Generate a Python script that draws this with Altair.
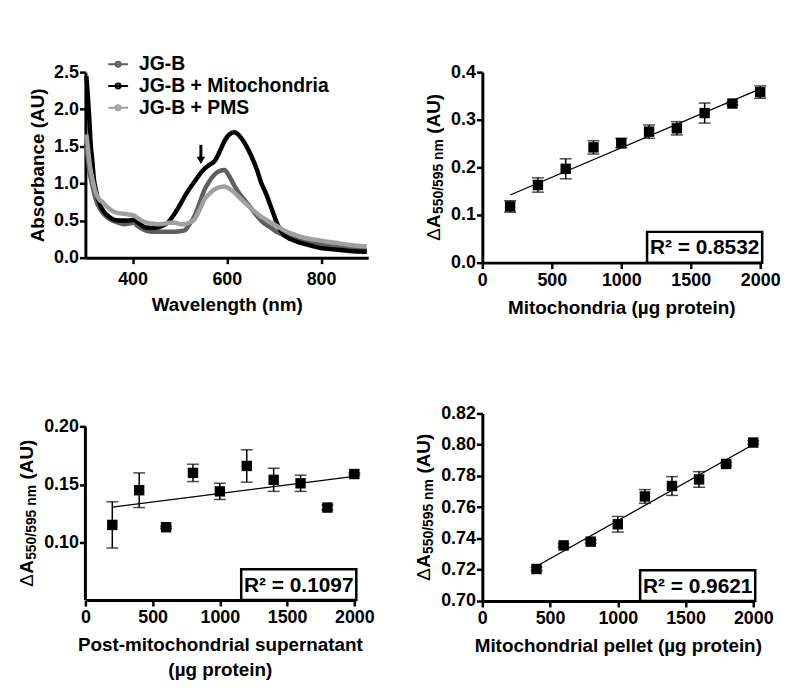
import altair as alt
import pandas as pd

FONT = "Liberation Sans"

# ---------------- Panel A: absorption spectra ----------------
wavelength = [302, 305, 308, 311, 315, 318, 322, 325, 330, 336,
              345, 357, 370, 384, 393, 402, 412, 426, 440, 455,
              470, 476, 490, 504, 511, 520, 532, 542, 553, 563,
              574, 585, 595, 605, 616, 627, 640, 652, 663, 673,
              684, 694, 708, 721, 735, 757, 780, 799, 830, 860, 897]
abs_jgb = [1.50, 1.35, 1.19, 1.08, 0.97, 0.88, 0.79, 0.73, 0.67, 0.61,
           0.55, 0.50, 0.47, 0.45, 0.46, 0.47, 0.42, 0.37, 0.35, 0.35,
           0.35, 0.35, 0.35, 0.36, 0.37, 0.44, 0.57, 0.73, 0.92, 1.03,
           1.12, 1.17, 1.18, 1.10, 0.97, 0.86, 0.76, 0.66, 0.57, 0.50,
           0.44, 0.40, 0.34, 0.30, 0.27, 0.23, 0.20, 0.19, 0.15, 0.12, 0.10]
abs_mito = [2.45, 2.20, 1.90, 1.55, 1.28, 1.06, 0.92, 0.83, 0.73, 0.65,
            0.58, 0.52, 0.50, 0.50, 0.50, 0.51, 0.47, 0.41, 0.40, 0.41,
            0.45, 0.48, 0.60, 0.75, 0.83, 0.92, 1.03, 1.12, 1.20, 1.25,
            1.30, 1.43, 1.57, 1.66, 1.69, 1.64, 1.52, 1.37, 1.20, 1.01,
            0.85, 0.68, 0.44, 0.31, 0.25, 0.20, 0.16, 0.13, 0.11, 0.09, 0.08]
abs_pms = [1.66, 1.50, 1.32, 1.18, 1.06, 0.97, 0.88, 0.83, 0.78, 0.75,
           0.69, 0.63, 0.60, 0.59, 0.58, 0.57, 0.53, 0.48, 0.46, 0.45,
           0.46, 0.47, 0.47, 0.45, 0.45, 0.47, 0.52, 0.64, 0.79, 0.86,
           0.92, 0.95, 0.96, 0.93, 0.88, 0.81, 0.73, 0.66, 0.60, 0.55,
           0.51, 0.47, 0.42, 0.37, 0.33, 0.28, 0.25, 0.23, 0.20, 0.17, 0.15]
series_names = ["JG-B", "JG-B + Mitochondria", "JG-B + PMS"]
series_colors = ["#5e5e5e", "#000000", "#a0a0a0"]
arrow_wl = [545]
arrow_top = [1.52]
arrow_head = [1.31]

# ---------------- Panels B-D: dose response ----------------
protein = [200, 400, 600, 800, 1000, 1200, 1400, 1600, 1800, 2000]
mito_dA = [0.118, 0.163, 0.197, 0.242, 0.251, 0.275, 0.282, 0.314, 0.334, 0.358]
mito_err = [0.012, 0.015, 0.021, 0.014, 0.010, 0.014, 0.014, 0.021, 0.003, 0.013]
pms_dA = [0.115, 0.145, 0.113, 0.160, 0.144, 0.166, 0.154, 0.151, 0.130, 0.159]
pms_err = [0.020, 0.015, 0.001, 0.0075, 0.007, 0.014, 0.010, 0.007, 0.002, 0.001]
pellet_protein = [400, 600, 800, 1000, 1200, 1400, 1600, 1800, 2000]
pellet_dA = [0.7205, 0.7356, 0.7380, 0.7491, 0.7669, 0.7736, 0.7778, 0.7877, 0.8014]
pellet_err = [0.001, 0.001, 0.001, 0.005, 0.0044, 0.006, 0.005, 0.001, 0.001]
r2_labels = ["R² = 0.8532", "R² = 0.1097", "R² = 0.9621"]
x_ticks = [0, 500, 1000, 1500, 2000]

ONE = pd.DataFrame({"k": [0]})


def y_title_layers(center, dx):
    w_delta, w_a, w_sub, gap, w_au = 13, 14, 76, 5, 40
    total = w_delta + w_a + w_sub + gap + w_au
    y0 = center + total / 2

    def piece(txt, y, x, fs, weight):
        return alt.Chart(ONE).mark_text(
            text=txt, angle=270, align="left", baseline="alphabetic",
            font=FONT, fontSize=fs, fontWeight=weight, color="black"
        ).encode(x=alt.value(x), y=alt.value(y))

    return [
        piece("Δ", y0, dx, 19, "normal"),
        piece("A", y0 - w_delta, dx, 19, "bold"),
        piece("550/595 nm", y0 - w_delta - w_a, dx + 3, 14, "bold"),
        piece("(AU)", y0 - w_delta - w_a - w_sub - gap, dx, 19, "bold"),
    ]


def r2_layers(w, h, label, bw=116, bh=31):
    box = alt.Chart(ONE).mark_rect(fill="white", stroke="black", strokeWidth=2.5).encode(
        x=alt.value(w + 2 - bw), x2=alt.value(w + 2), y=alt.value(h - bh), y2=alt.value(h))
    txt = alt.Chart(ONE).mark_text(
        text=label, font=FONT, fontSize=21, fontWeight="bold", color="black",
        align="center", baseline="middle"
    ).encode(x=alt.value(w + 2 - bw / 2), y=alt.value(h - bh / 2 + 1))
    return [box, txt]


def scatter_panel(xs, ys, es, xtitle, ydomain, yvalues, yfmt, w, h, label, ytitle_dx,
                  axis_top=None, title_center=None):
    df = pd.DataFrame({"x": xs, "y": ys, "e": es})
    base = alt.Chart(df)
    xenc = alt.X("x:Q", scale=alt.Scale(domain=[0, 2000], nice=False),
                 axis=alt.Axis(values=x_ticks, tickCount=len(x_ticks), format="d",
                               title=xtitle, labelPadding=3, titlePadding=9,
                               titleLineHeight=25, labelOverlap=False))
    yenc = alt.Y("y:Q", scale=alt.Scale(domain=ydomain, nice=False, zero=False),
                 axis=alt.Axis(values=yvalues, tickCount=len(yvalues), format=yfmt,
                               title=None, domain=axis_top is None, labelOverlap=False))
    reg = base.transform_regression("x", "y").mark_line(
        color="black", strokeWidth=1.3).encode(x=xenc, y=yenc)
    err = base.transform_calculate(lo="datum.y - datum.e", hi="datum.y + datum.e")
    bars = err.mark_rule(color="black", strokeWidth=1.5).encode(
        x="x:Q", y="lo:Q", y2="hi:Q")
    cap_lo = err.mark_tick(color="black", thickness=1.5, size=12, orient="horizontal").encode(
        x="x:Q", y="lo:Q")
    cap_hi = err.mark_tick(color="black", thickness=1.5, size=12, orient="horizontal").encode(
        x="x:Q", y="hi:Q")
    pts = base.mark_square(size=110, color="black", opacity=1).encode(x=xenc, y=yenc)
    layers = [reg, bars, cap_lo, cap_hi, pts]
    if axis_top is not None:
        layers.append(alt.Chart(ONE).mark_rule(color="black", strokeWidth=3).encode(
            x=alt.value(0), y=alt.Y(datum=axis_top), y2=alt.Y2(datum=ydomain[0])))
    layers += r2_layers(w, h, label)
    center = title_center if title_center is not None else h / 2
    layers += y_title_layers(center, ytitle_dx)
    return alt.layer(*layers).properties(width=w, height=h)


# ---------------- Panel A chart ----------------
spec_df = pd.DataFrame({
    "wl": wavelength * 3,
    "abs": abs_jgb + abs_mito + abs_pms,
    "series": [series_names[0]] * len(wavelength) + [series_names[1]] * len(wavelength)
              + [series_names[2]] * len(wavelength),
})
legend_symbol = "M-1,0H1M-0.25,0A0.25,0.25,0,1,1,0.25,0A0.25,0.25,0,1,1,-0.25,0Z"
wl_ticks = [400, 600, 800]
abs_ticks = [0, 0.5, 1.0, 1.5, 2.0, 2.5]
lines = alt.Chart(spec_df).mark_line(strokeWidth=4.5, interpolate="monotone").encode(
    x=alt.X("wl:Q", scale=alt.Scale(domain=[300, 900], nice=False),
            axis=alt.Axis(values=wl_ticks, tickCount=len(wl_ticks), format="d",
                          title="Wavelength (nm)", labelPadding=7, titlePadding=7,
                          labelOverlap=False)),
    y=alt.Y("abs:Q", scale=alt.Scale(domain=[0, 2.5], nice=False),
            axis=alt.Axis(values=abs_ticks, tickCount=len(abs_ticks), format=".1f",
                          title="Absorbance (AU)", titlePadding=6, labelOverlap=False)),
    color=alt.Color("series:N", scale=alt.Scale(domain=series_names, range=series_colors),
                    legend=alt.Legend(orient="none", legendX=22, legendY=-19, title=None,
                                      symbolType=legend_symbol, symbolSize=400,
                                      symbolStrokeWidth=2, labelFont=FONT, labelFontSize=19.5,
                                      labelFontWeight="bold", labelColor="black",
                                      labelOffset=10, rowPadding=1, padding=0,
                                      labelLimit=400)),
)
arrow_df = pd.DataFrame({"wl": arrow_wl, "top": arrow_top, "head": arrow_head})
arrow_shaft = alt.Chart(arrow_df).mark_rule(color="black", strokeWidth=3).encode(
    x="wl:Q", y="top:Q", y2="head:Q")
arrow_tip = alt.Chart(arrow_df).mark_point(shape="triangle-down", filled=True, size=70,
                                           color="black", opacity=1).encode(
    x="wl:Q", y="head:Q")
p1 = alt.layer(lines, arrow_shaft, arrow_tip).properties(width=285, height=187)

p2 = scatter_panel(protein, mito_dA, mito_err, "Mitochondria (µg protein)",
                   [0, 0.4], [0, 0.1, 0.2, 0.3, 0.4], ".1f", 280, 192, r2_labels[0], -43)
p3 = scatter_panel(protein, pms_dA, pms_err,
                   ["Post-mitochondrial supernatant", "(µg protein)"],
                   [0.05, 0.2114], [0.10, 0.15, 0.20], ".2f", 271, 188, r2_labels[1], -53,
                   axis_top=0.20, title_center=13 + 175 / 2)
p4 = scatter_panel(pellet_protein, pellet_dA, pellet_err, "Mitochondrial pellet (µg protein)",
                   [0.70, 0.82], [0.70, 0.72, 0.74, 0.76, 0.78, 0.80, 0.82], ".2f", 273, 189,
                   r2_labels[2], -53)

chart = alt.concat(p1, p2, p3, p4, columns=2, spacing={"row": 152, "column": 115},
                   bounds="flush").properties(
    padding={"left": 10, "top": 43, "right": 5, "bottom": 0}
).configure_view(stroke=None).configure_axis(
    domainColor="black", domainWidth=3, tickColor="black", tickWidth=2.5, tickSize=6,
    labelFont=FONT, labelFontSize=18, labelFontWeight="bold", labelColor="black",
    labelFlush=False, labelOverlap=False, labelPadding=1,
    titleFont=FONT, titleFontSize=19, titleFontWeight="bold", titleColor="black",
    grid=False
)

chart.save("out.html", embed_options={"renderer": "svg", "actions": False})
